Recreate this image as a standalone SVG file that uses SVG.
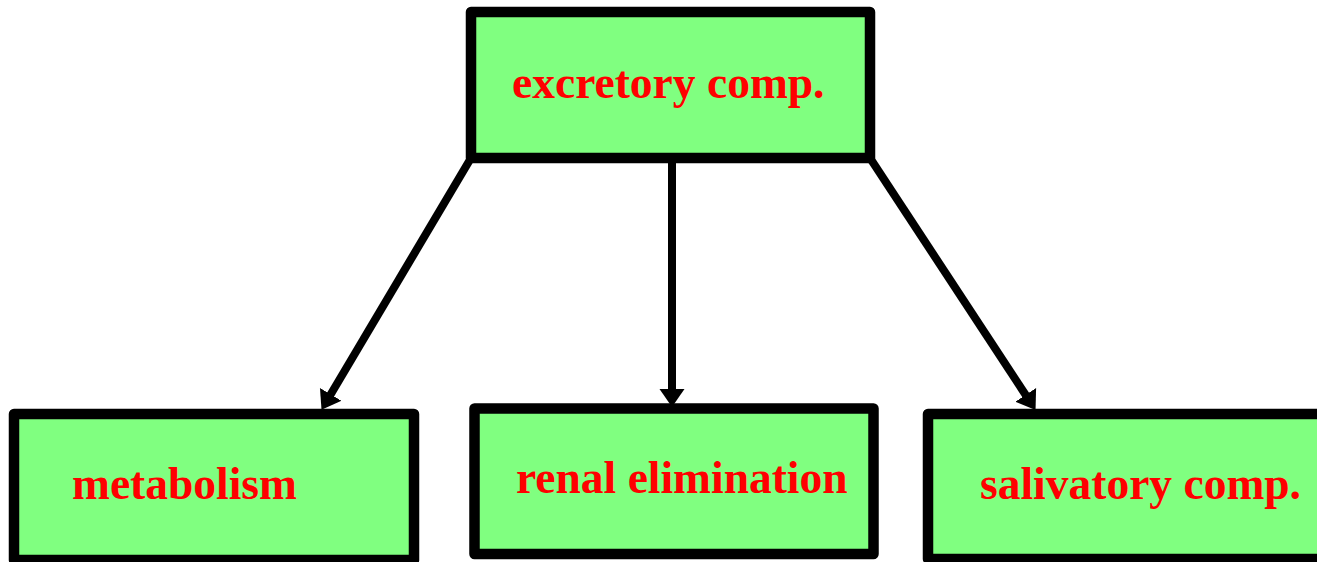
<svg xmlns="http://www.w3.org/2000/svg" width="1317" height="562" viewBox="0 0 1317 562">
<style>
.box{fill:#80ff80;stroke:#000;stroke-width:10.5;stroke-linejoin:round}
.lbl{font-family:"Liberation Serif","Times New Roman",serif;font-weight:bold;font-size:45.5px;fill:#ff0000}
.edge{stroke:#000;stroke-width:8;fill:none;marker-end:url(#ah)}
</style>
<defs>
<marker id="ah" markerUnits="userSpaceOnUse" markerWidth="22" markerHeight="28" refX="1" refY="13" orient="auto" viewBox="0 0 22 28">
<path d="M0,0.5 L18,13 L0,25.5 z" fill="#000"/>
</marker>
</defs>
<g id="connectors">
<line class="edge" x1="471" y1="158" x2="330.2" y2="395.2"/>
<line class="edge" x1="672" y1="158" x2="672" y2="390"/>
<line class="edge" x1="870" y1="158" x2="1026.2" y2="395.7"/>
</g>
<g id="excretory">
<rect class="box" x="471" y="12" width="399" height="146"/>
<text class="lbl" x="512" y="98">excretory comp.</text>
</g>
<g id="metabolism">
<rect class="box" x="14" y="414" width="400" height="146"/>
<text class="lbl" x="72" y="499">metabolism</text>
</g>
<g id="renal">
<rect class="box" x="474.5" y="408.5" width="399" height="145.5"/>
<text class="lbl" x="516" y="493">renal elimination</text>
</g>
<g id="salivatory">
<rect class="box" x="928" y="414" width="400" height="145"/>
<text class="lbl" x="980" y="499">salivatory comp.</text>
</g>
</svg>
